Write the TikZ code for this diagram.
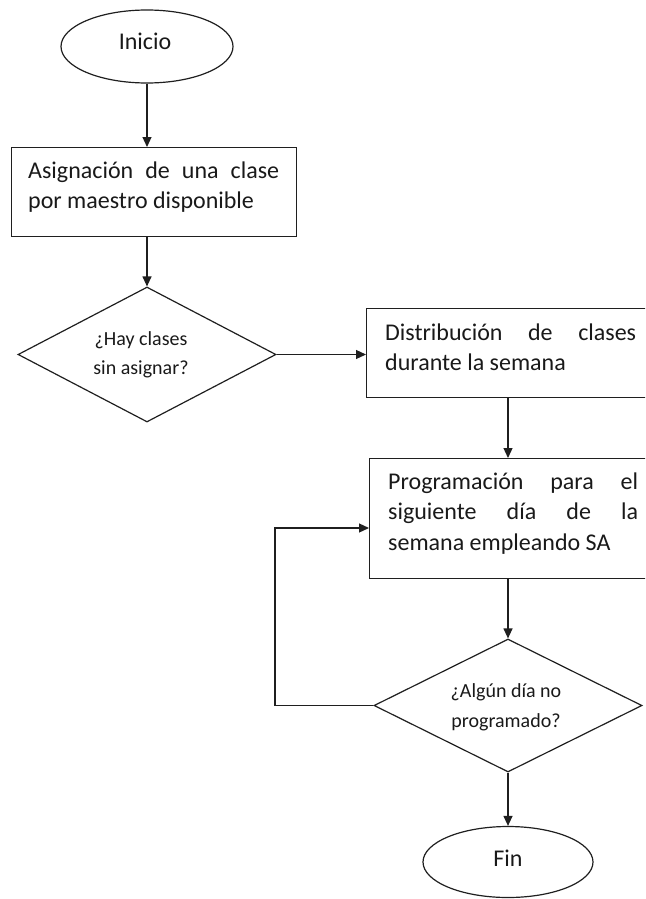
\documentclass[tikz,border=0pt]{standalone}
\usepackage{fontspec}
\setmainfont{Carlito}
\usetikzlibrary{shapes.geometric,arrows.meta}
\begin{document}
\begin{tikzpicture}[x=1pt,y=-1pt,
  ln/.style={line width=1.2pt, draw=black!88},
  arr/.style={ln, -{Triangle[length=10pt,width=9pt]}},
  box/.style={ln, rectangle, minimum width=285pt, inner sep=0pt, anchor=north west},
  dia/.style={ln, diamond, inner sep=0pt},
  ell/.style={ln, ellipse, inner sep=0pt},
  big/.style={font=\fontsize{24}{30}\selectfont, text=black!90, inner sep=0pt, anchor=base west},
  small/.style={font=\fontsize{20}{29}\selectfont, text=black!90, inner sep=0pt, anchor=base}
]
\useasboundingbox (0,0) rectangle (645,899);
\clip (0,0) rectangle (645,899);

% shapes
\node[ell, minimum width=172pt, minimum height=73pt] (inicio) at (147,46.5) {};
\node[box, minimum height=89pt] (b1) at (11,147) {};
\node[dia, minimum width=258pt, minimum height=135pt] (d1) at (147,354.5) {};
\node[box, minimum height=89pt] (b2) at (366,308) {};
\node[box, minimum height=120pt] (b3) at (369,458) {};
\node[dia, minimum width=268pt, minimum height=133pt] (d2) at (508,705.5) {};
\node[ell, minimum width=170pt, minimum height=71pt] (fin) at (508,862) {};

% texts
\node[small, font=\fontsize{24}{30}\selectfont] (tinicio) at (145,50) {Inicio};
\node[big] (t1) at (28,178) {\vtop{\hbox{\makebox[251pt][s]{Asignación de una clase}}\hbox{por maestro disponible}}};
\node[small] (td1) at (141,345) {\vtop{\hbox to 130pt{\hfil ¿Hay clases\hfil}\hbox to 130pt{\hfil sin asignar?\hfil}}};
\node[big] (t2) at (385,340) {\vtop{\hbox{\makebox[251pt][s]{Distribución de clases}}\hbox{durante la semana}}};
\node[big, font=\fontsize{24}{30.5}\selectfont] (t3) at (388,489) {\vtop{\hbox{\makebox[250pt][s]{Programación para el}}\hbox{\makebox[250pt][s]{siguiente día de la}}\hbox{semana empleando SA}}};
\node[small, font=\fontsize{20}{30}\selectfont] (td2) at (506,697) {\vtop{\hbox to 140pt{\hfil ¿Algún día no\hfil}\hbox to 140pt{\hfil programado?\hfil}}};
\node[small, font=\fontsize{24}{30}\selectfont] (tfin) at (508,866) {Fin};

% connectors
\coordinate (lp) at (275,528);
\draw[arr] (inicio.south) -- (inicio.south |- b1.north);
\draw[arr] (d1.north |- b1.south) -- (d1.north);
\draw[arr] (d1.east) -- (d1.east -| b2.west);
\draw[arr] (d2.north |- b2.south) -- (d2.north |- b3.north);
\draw[arr] (d2.north |- b3.south) -- (d2.north);
\draw[arr] (d2.south) -- (fin.north);
\draw[arr] (d2.west) -| (lp) -- (lp -| b3.west);
\end{tikzpicture}
\end{document}
